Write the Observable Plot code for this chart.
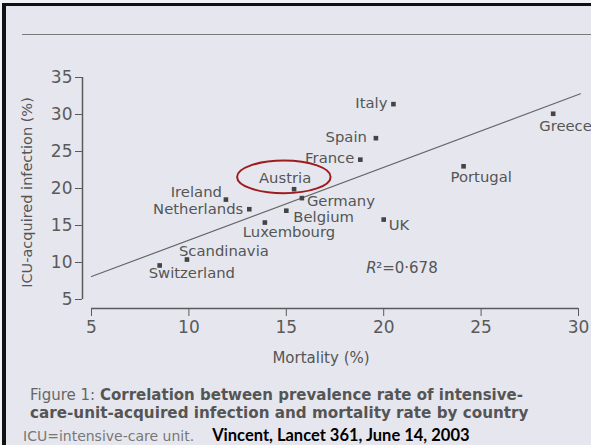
<!DOCTYPE html>
<html>
<head>
<meta charset="utf-8">
<script src="https://cdn.jsdelivr.net/npm/d3@7"></script>
<script src="https://cdn.jsdelivr.net/npm/@observablehq/plot@0.6"></script>
<style>
  body { margin: 0; background: #f3f3f5; }
  #page { position: relative; width: 591px; height: 445px; overflow: hidden; font-family: "DejaVu Sans", sans-serif; }
  #frame { position: absolute; left: 2px; top: 3px; right: -10px; bottom: -10px; border-left: 4px solid #111; border-top: 3px solid #111; background: #e6e7ee; }
  #toprule { position: absolute; left: 22px; top: 34px; width: 600px; height: 0; border-top: 1.5px solid #7a7a7a; }
  #chart { position: absolute; left: 0; top: 0; }
  .cap { position: absolute; white-space: nowrap; line-height: 18px; }
  #cap1 { left: 30px; top: 386px; font-size: 15px; color: #666; }
  #cap2 { left: 30px; top: 404px; font-size: 15.2px; color: #555; font-weight: bold; }
  #cap3 { left: 23px; top: 426px; font-size: 14px; color: #777; }
  .b { font-weight: bold; color: #555; }
  .src { font-family: Lato, "Liberation Sans", sans-serif; font-weight: bold; color: #000; font-size: 16.5px; margin-left: 18px; }
</style>
</head>
<body>
<div id="page">
  <div id="frame"></div>
  <div id="toprule"></div>
  <div id="chart"></div>
  <div class="cap" id="cap1"></div>
  <div class="cap" id="cap2"></div>
  <div class="cap" id="cap3"></div>
</div>
<script>
// ---- data ----
const countries = ["Italy", "Spain", "France", "Greece", "Portugal", "UK", "Austria", "Germany",
                   "Belgium", "Luxembourg", "Netherlands", "Ireland", "Scandinavia", "Switzerland"];
const mortality = [20.5, 19.6, 18.8, 28.7, 24.1, 20.0, 15.4, 15.8, 15.0, 13.9, 13.1, 11.9, 9.9, 8.5];
const icuInfection = [31.4, 26.8, 23.9, 30.1, 23.0, 15.8, 19.9, 18.7, 17.0, 15.4, 17.2, 18.5, 10.4, 9.6];
const regressionX = [5, 30.1];
const regressionY = [8.1, 32.8];
const xTicks = [5, 10, 15, 20, 25, 30];
const yTicks = [5, 10, 15, 20, 25, 30, 35];
const xLabel = "Mortality (%)";
const yLabel = "ICU-acquired infection (%)";
const r2Value = "0·678";
const r2Anchor = [19.1, 9.2];
const highlightCountry = "Austria";
const highlightCenter = [14.9, 21.5];
const highlightRadii = [2.4, 2.2];
const captionFigure = "Figure 1: ";
const captionBold1 = "Correlation between prevalence rate of intensive-";
const captionBold2 = "care-unit-acquired infection and mortality rate by country";
const captionNote = "ICU=intensive-care unit.";
const captionSource = "Vincent, Lancet 361, June 14, 2003";

// ---- label placement (px offsets from point) ----
const place = {
  Italy: [-6, -1, "end"], Spain: [-9, -1, "end"], France: [-6, -1, "end"],
  Greece: [-14, 12, "start"], Portugal: [-13, 11, "start"], UK: [5, 6, "start"],
  Austria: [-9, -11, "middle"], Germany: [5, 3, "start"], Belgium: [7, 7, "start"],
  Luxembourg: [-22, 10, "start"], Netherlands: [-6, 0, "end"], Ireland: [-4, -7, "end"],
  Scandinavia: [-8, -8, "start"], Switzerland: [-11, 8, "start"]
};

const table = countries.map((c, i) => ({country: c, x: mortality[i], y: icuInfection[i]}));
const reg = regressionX.map((x, i) => ({x, y: regressionY[i]}));
const axisColor = "#5a5a5a";
const textColor = "#555";

const ellipseMark = (index, scales) => {
  const x = scales.x, y = scales.y;
  const cx = x(highlightCenter[0]), cy = y(highlightCenter[1]);
  const rx = x(highlightCenter[0] + highlightRadii[0]) - cx;
  const ry = cy - y(highlightCenter[1] + highlightRadii[1]);
  const g = d3.create("svg:g");
  g.append("ellipse").attr("cx", cx).attr("cy", cy).attr("rx", rx).attr("ry", ry)
    .attr("fill", "none").attr("stroke", "#9c1c1f").attr("stroke-width", 2);
  return g.node();
};

const plot = Plot.plot({
  width: 591,
  height: 370,
  marginLeft: 91,
  marginRight: 13,
  marginTop: 77,
  marginBottom: 71,
  style: {background: "transparent", fontFamily: "DejaVu Sans", overflow: "visible"},
  x: {domain: [5, 30]},
  y: {domain: [5, 35]},
  marks: [
    Plot.ruleX([5], {y1: 5, y2: 35, dx: -9, stroke: axisColor, strokeWidth: 1.5}),
    Plot.axisY(yTicks, {anchor: "left", dx: -9, tickSize: 7, tickPadding: 3, fontSize: 17, color: axisColor, label: null, tickFormat: d => d}),
    Plot.ruleY([5], {x1: 5, x2: 30, dy: 9, stroke: axisColor, strokeWidth: 1.5}),
    Plot.axisX(xTicks, {anchor: "bottom", dy: 9, tickSize: 8, tickPadding: 4, fontSize: 17, color: axisColor, label: null, tickFormat: d => d}),
    Plot.text([xLabel], {frameAnchor: "bottom", text: d => d, textAnchor: "middle", lineAnchor: "middle", dx: -14, dy: 59, fontSize: 15, fill: textColor}),
    Plot.text([yLabel], {frameAnchor: "left", text: d => d, textAnchor: "middle", lineAnchor: "middle", dx: -64, dy: 4, rotate: -90, fontSize: 14.5, fill: textColor}),
    Plot.line(reg, {x: "x", y: "y", stroke: "#666", strokeWidth: 1.2}),
    Plot.dot(table, {x: "x", y: "y", symbol: "square", r: 2.6, fill: "#444"}),
    ...table.map(d => {
      const p = place[d.country];
      return Plot.text([d], {x: "x", y: "y", text: "country", dx: p[0], dy: p[1], textAnchor: p[2], fontSize: 14.8, fill: textColor});
    }),
    Plot.text([r2Anchor], {x: d => d[0], y: d => d[1], text: () => "R", textAnchor: "start", fontStyle: "italic", fontSize: 15, fill: textColor}),
    Plot.text([r2Anchor], {x: d => d[0], y: d => d[1], text: () => "²=" + r2Value, textAnchor: "start", dx: 10, fontSize: 15, fill: textColor}),
    ellipseMark
  ]
});
document.getElementById("chart").appendChild(plot);

document.getElementById("cap1").innerHTML = captionFigure + '<span class="b">' + captionBold1 + '</span>';
document.getElementById("cap2").textContent = captionBold2;
document.getElementById("cap3").innerHTML = captionNote + '<span class="src">' + captionSource + '</span>';
</script>
</body>
</html>
